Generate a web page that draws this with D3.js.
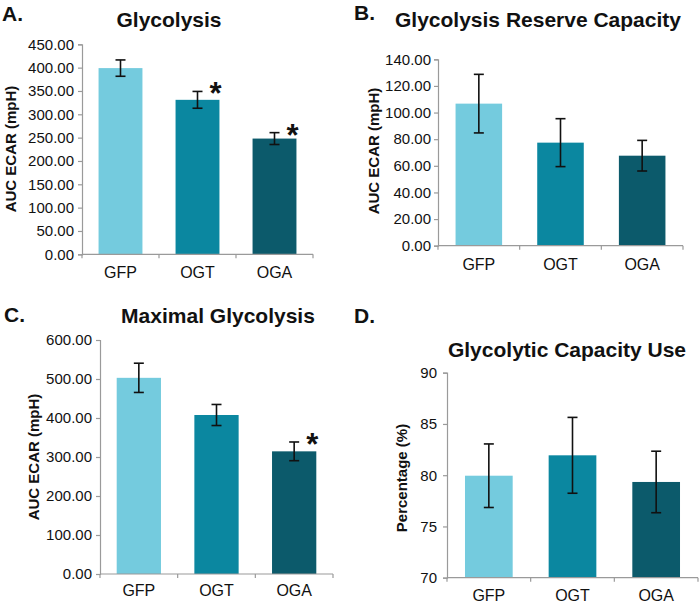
<!DOCTYPE html>
<html>
<head>
<meta charset="utf-8">
<script src="https://cdn.jsdelivr.net/npm/d3@7"></script>
<style>
  body { margin: 0; background: #fff; }
  svg { display: block; font-family: "Liberation Sans", Arial, Helvetica, sans-serif; }
</style>
</head>
<body>
<svg id="fig" width="700" height="604"></svg>
<script>
// Groupes (communs aux 4 panneaux)
const groups = ["GFP", "OGT", "OGA"];
const barColors = ["#74cbde", "#0b87a0", "#0c5a6b"];

// A. Glycolysis
const glycoMean = [399, 331, 248];
const glycoErr = [17.5, 18, 12.7];
const glycoStar = [false, true, true];
const glycoTicks = [0, 50, 100, 150, 200, 250, 300, 350, 400, 450];

// B. Glycolysis Reserve Capacity
const reserveMean = [106.7, 77.4, 67.6];
const reserveErr = [22, 18, 11.5];
const reserveStar = [false, false, false];
const reserveTicks = [0, 20, 40, 60, 80, 100, 120, 140];

// C. Maximal Glycolysis
const maxMean = [503, 407.7, 314.5];
const maxErr = [37.5, 27, 24];
const maxStar = [false, false, true];
const maxTicks = [0, 100, 200, 300, 400, 500, 600];

// D. Glycolytic Capacity Use
const useMean = [79.95, 81.94, 79.34];
const useErr = [3.1, 3.7, 3.0];
const useStar = [false, false, false];
const useTicks = [70, 75, 80, 85, 90];

const svg = d3.select("#fig");

// dessine un panneau: cadre du graphe + textes
function drawPanel(p) {
  const g = svg.append("g");

  const x = d3.scaleBand()
    .domain(groups)
    .range([p.left, p.right])
    .paddingInner(0.43)
    .paddingOuter(0.215);

  const y = d3.scaleLinear()
    .domain(d3.extent(p.ticks))
    .range([p.bottom, p.top]);

  const rows = groups.map((k, i) => ({ k, v: p.mean[i], e: p.err[i], star: p.star[i], c: barColors[i] }));

  // barres
  g.selectAll("rect.bar").data(rows).join("rect")
    .attr("class", "bar")
    .attr("x", d => x(d.k))
    .attr("y", d => y(d.v))
    .attr("width", x.bandwidth())
    .attr("height", d => y(p.ticks[0]) - y(d.v))
    .attr("fill", d => d.c);

  // axe Y
  const yAxis = g.append("g")
    .attr("transform", `translate(${p.left},0)`)
    .call(d3.axisLeft(y).tickValues(p.ticks).tickSize(4).tickPadding(p.tickPad)
      .tickFormat(p.fmt));
  yAxis.select(".domain").attr("stroke", "#9a9a9a").attr("stroke-width", 1.2);
  yAxis.selectAll(".tick line").attr("stroke", "#9a9a9a").attr("stroke-width", 1.2);
  yAxis.selectAll(".tick text").attr("fill", "#111").style("font-size", "15px");

  // axe X (ligne + petites graduations entre les groupes)
  g.append("line")
    .attr("x1", p.left).attr("x2", p.right)
    .attr("y1", p.bottom).attr("y2", p.bottom)
    .attr("stroke", "#9a9a9a").attr("stroke-width", 1.2);
  const step = x.step();
  const bounds = d3.range(groups.length + 1).map(i => p.left + i * step);
  g.selectAll("line.xt").data(bounds).join("line")
    .attr("class", "xt")
    .attr("x1", d => d).attr("x2", d => d)
    .attr("y1", p.bottom).attr("y2", p.bottom + 4)
    .attr("stroke", "#9a9a9a").attr("stroke-width", 1.2);

  g.selectAll("text.xl").data(rows).join("text")
    .attr("class", "xl")
    .attr("x", d => x(d.k) + x.bandwidth() / 2)
    .attr("y", p.xLabelY)
    .attr("text-anchor", "middle")
    .attr("fill", "#111")
    .style("font-size", "16px")
    .text(d => d.k);

  // barres d'erreur
  const cap = 5;
  const eb = g.selectAll("g.err").data(rows).join("g").attr("class", "err")
    .attr("stroke", "#111").attr("stroke-width", 1.6);
  eb.append("line")
    .attr("x1", d => x(d.k) + x.bandwidth() / 2).attr("x2", d => x(d.k) + x.bandwidth() / 2)
    .attr("y1", d => y(d.v + d.e)).attr("y2", d => y(d.v - d.e));
  eb.append("line")
    .attr("x1", d => x(d.k) + x.bandwidth() / 2 - cap).attr("x2", d => x(d.k) + x.bandwidth() / 2 + cap)
    .attr("y1", d => y(d.v + d.e)).attr("y2", d => y(d.v + d.e));
  eb.append("line")
    .attr("x1", d => x(d.k) + x.bandwidth() / 2 - cap).attr("x2", d => x(d.k) + x.bandwidth() / 2 + cap)
    .attr("y1", d => y(d.v - d.e)).attr("y2", d => y(d.v - d.e));

  // astérisques (significatif)
  g.selectAll("text.star").data(rows.filter(d => d.star)).join("text")
    .attr("class", "star")
    .attr("x", d => x(d.k) + x.bandwidth() / 2 + 18)
    .attr("y", d => y(d.v + d.e) + 13)
    .attr("text-anchor", "middle")
    .attr("fill", "#111")
    .style("font-size", "31px").style("font-weight", "bold")
    .text("*");

  // titre Y
  g.append("text")
    .attr("transform", `translate(${p.yLabelX},${p.yLabelY}) rotate(-90)`)
    .attr("text-anchor", "middle")
    .attr("fill", "#111")
    .style("font-size", "15px").style("font-weight", "bold")
    .text(p.yLabel);

  // titre + lettre
  g.append("text")
    .attr("x", p.titleX).attr("y", p.titleY)
    .attr("text-anchor", "middle")
    .attr("fill", "#111")
    .style("font-size", "21px").style("font-weight", "bold")
    .text(p.title);

  g.append("text")
    .attr("x", p.letterX).attr("y", p.letterY)
    .attr("fill", "#111")
    .style("font-size", "21px").style("font-weight", "bold")
    .text(p.letter);
}

const fmt2 = d3.format(".2f");

drawPanel({
  letter: "A.", letterX: 2, letterY: 21,
  title: "Glycolysis", titleX: 169, titleY: 27,
  mean: glycoMean, err: glycoErr, star: glycoStar, ticks: glycoTicks, fmt: fmt2,
  left: 82, right: 313, top: 44.3, bottom: 254.3, tickPad: 4,
  xLabelY: 278, yLabel: "AUC ECAR (mpH)", yLabelX: 16, yLabelY: 149
});

drawPanel({
  letter: "B.", letterX: 354, letterY: 20,
  title: "Glycolysis Reserve Capacity", titleX: 538, titleY: 27,
  mean: reserveMean, err: reserveErr, star: reserveStar, ticks: reserveTicks, fmt: fmt2,
  left: 438, right: 683, top: 59.3, bottom: 245.7, tickPad: 3,
  xLabelY: 270, yLabel: "AUC ECAR (mpH)", yLabelX: 379, yLabelY: 151
});

drawPanel({
  letter: "C.", letterX: 4, letterY: 322,
  title: "Maximal Glycolysis", titleX: 218, titleY: 323,
  mean: maxMean, err: maxErr, star: maxStar, ticks: maxTicks, fmt: fmt2,
  left: 100, right: 333, top: 340, bottom: 574, tickPad: 4,
  xLabelY: 596, yLabel: "AUC ECAR (mpH)", yLabelX: 39, yLabelY: 457
});

drawPanel({
  letter: "D.", letterX: 354, letterY: 323,
  title: "Glycolytic Capacity Use", titleX: 567, titleY: 357,
  mean: useMean, err: useErr, star: useStar, ticks: useTicks, fmt: d3.format("d"),
  left: 447, right: 698, top: 372.7, bottom: 577.7, tickPad: 6,
  xLabelY: 601, yLabel: "Percentage (%)", yLabelX: 407, yLabelY: 478
});
</script>
</body>
</html>
